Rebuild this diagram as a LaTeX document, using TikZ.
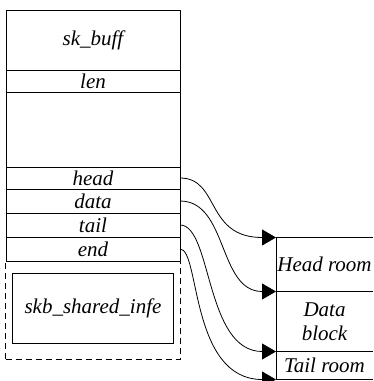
\documentclass[tikz,border=0pt]{standalone}
\usepackage{fontspec}
\setmainfont{Liberation Serif}
\usepackage{tikz}
\usetikzlibrary{
  positioning, arrows.meta
}

\tikzset{
  field/.style={draw, line width=0.8pt, minimum width=174pt, inner sep=0pt, outer sep=0pt},
  room/.style={minimum width=97pt, inner sep=0pt, outer sep=0pt, align=center},
  ptr/.style={-{Triangle[length=14pt,width=16pt]}, line width=0.8pt}
}

\begin{document}
\begin{tikzpicture}[x=1pt, y=-1pt, font=\fontsize{21}{24}\selectfont\itshape]
      \useasboundingbox (0,0) rectangle (373,381);

      % sk_buff fields
      \node[field, minimum height=60pt, anchor=north west] (skb) at (6,10) {sk\_buff};
      \node[field, minimum height=22pt, below=0pt of skb] (len) {len};
      \node[field, minimum height=75pt, below=0pt of len] (gap) {};
      \node[field, minimum height=22pt, below=0pt of gap] (head) {head};
      \node[field, minimum height=24pt, below=0pt of head] (data) {data};
      \node[field, minimum height=24pt, below=0pt of data] (tail) {tail};
      \node[field, minimum height=24pt, below=0pt of tail] (end) {end};

      \node[draw, dash pattern=on 6pt off 4pt, line width=0.8pt, minimum width=175pt,
        minimum height=98pt, inner sep=0pt, outer sep=0pt, below=0pt of end] (shinfo) {};
      \node[draw, line width=0.8pt, minimum width=161pt, minimum height=70pt,
        inner sep=0pt] (info) at ([yshift=2pt]shinfo.center) {skb\_shared\_infe};

      % data buffer
      \node[room, minimum height=54pt, anchor=north west] (hroom) at (276,237.5) {Head room};
      \node[room, minimum height=60pt, below=0pt of hroom] (droom) {Data\\block};
      \node[room, minimum height=28pt, below=0pt of droom] (troom) {Tail room};
      \draw[line width=0.8pt] (hroom.north east) -- (hroom.north west)
        -- (troom.south west) -- (troom.south east);
      \draw[line width=0.8pt] (hroom.south west) -- (hroom.south east);
      \draw[line width=0.8pt] (droom.south west) -- (droom.south east);

      % pointers
      \draw[ptr] (head.east) .. controls +(40,0) and +(-71,0) .. (hroom.north west);
      \draw[ptr] (data.east) .. controls +(48,0) and +(-58,0) .. (hroom.south west);
      \draw[ptr] (tail.east) .. controls +(32,0) and +(-71,0) .. (droom.south west);
      \draw[ptr] (end.east) .. controls +(20,0) and +(-86,0) .. (troom.south west);
\end{tikzpicture}
\end{document}
